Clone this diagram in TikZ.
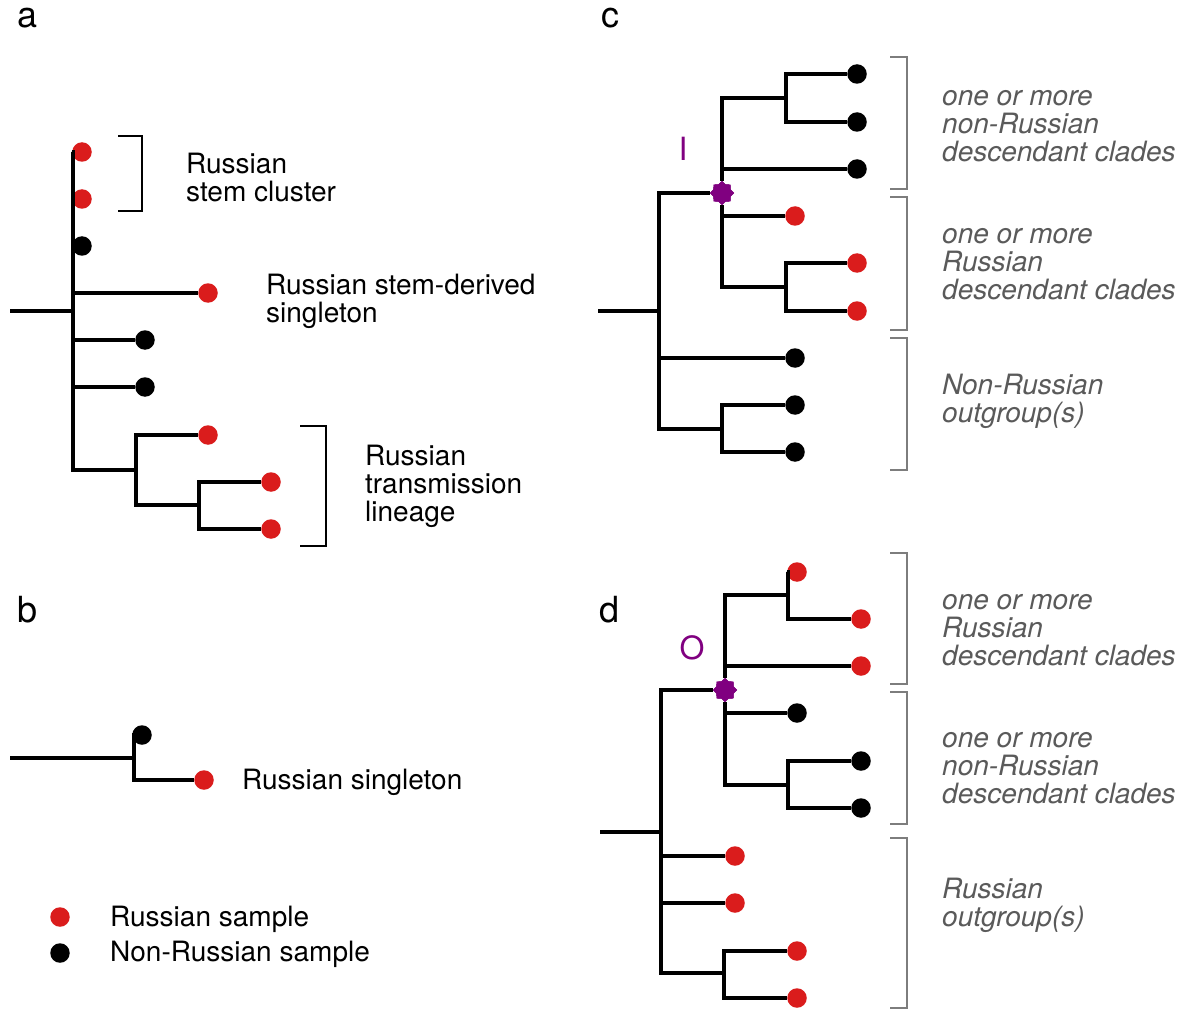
\documentclass[tikz,border=0pt]{standalone}
\usepackage{fontspec}
\setmainfont{TeX Gyre Heros}
\usetikzlibrary{shapes.geometric}
\definecolor{rus}{RGB}{218,28,28}
\definecolor{purp}{RGB}{128,0,128}
\definecolor{gtext}{RGB}{90,90,90}
\definecolor{gbr}{RGB}{125,125,125}
\begin{document}
\begin{tikzpicture}[x=1pt,y=-1pt,
  br/.style={line width=3.1pt,line join=miter},
  rdot/.style={circle,fill=rus,inner sep=0pt,minimum size=19.5pt},
  kdot/.style={circle,fill=black,inner sep=0pt,minimum size=19.5pt},
  burst/.style={star,star points=8,star point ratio=1.3,fill=purp,inner sep=0pt,minimum size=24pt},
  kbrack/.style={line width=2.8pt,line join=miter},
  gbrack/.style={line width=1.8pt,draw=gbr,line join=miter},
  txt/.style={anchor=west,align=left,inner sep=0pt,font=\fontsize{28}{28}\selectfont},
  gtxt/.style={txt,text=gtext,font=\fontsize{28}{28}\selectfont\itshape},
  plab/.style={inner sep=0pt,font=\fontsize{36}{36}\selectfont},
  mlab/.style={inner sep=0pt,text=purp,font=\fontsize{32}{32}\selectfont}]
\useasboundingbox[fill=white] (0,0) rectangle (1189,1011);

% ---------------- panel a ----------------
\node[plab] (la) at (28,18) {a};
\coordinate (a0) at (10,311);
\coordinate (ar) at (73,311);
\coordinate (a1) at (136,470);
\coordinate (a2) at (199,505);
\node[rdot] (aL1) at (82,152) {};
\node[rdot] (aL2) at (82,199) {};
\node[kdot] (aL3) at (82,246) {};
\node[rdot] (aL4) at (208,293) {};
\node[kdot] (aL5) at (145,340) {};
\node[kdot] (aL6) at (145,387) {};
\node[rdot] (aL7) at (208,435) {};
\node[rdot] (aL8) at (271,482) {};
\node[rdot] (aL9) at (271,529) {};
\draw[br] (a0) -- (ar);
\foreach \n in {aL1,aL2,aL3,aL4,aL5,aL6,a1} \draw[br] (ar) |- (\n);
\foreach \n in {aL7,a2} \draw[br] (a1) |- (\n);
\foreach \n in {aL8,aL9} \draw[br] (a2) |- (\n);
\draw[kbrack] (118,136) -| (142,211) -- (118,211);
\draw[kbrack] (300,426) -| (326,546) -- (300,546);
\node[txt] (ta1) at (186,178) {Russian\\stem cluster};
\node[txt] (ta2) at (266,301) {Russian stem-derived\\singleton};
\node[txt] (ta3) at (365,486) {Russian\\transmission\\lineage};

% ---------------- panel b ----------------
\node[plab] (lb) at (28,610) {b};
\coordinate (b0) at (10,758);
\coordinate (bro) at (134,758);
\node[kdot] (bL1) at (142,735) {};
\node[rdot] (bL2) at (204,780) {};
\draw[br] (b0) -- (bro);
\draw[br] (bro) |- (bL1);
\draw[br] (bro) |- (bL2);
\node[txt] (tb1) at (242,782) {Russian singleton};

% legend
\node[rdot] (gR) at (60,917) {};
\node[kdot] (gK) at (60,953) {};
\node[txt] (tgR) at (110,919) {Russian sample};
\node[txt] (tgK) at (110,954) {Non-Russian sample};

% ---------------- panel c ----------------
\node[plab] (lc) at (610,18) {c};
\coordinate (c0) at (598,311);
\coordinate (cr) at (659,311);
\node[burst] (cs) at (722,193) {};
\coordinate (c1) at (786,98);
\coordinate (c2) at (786,287);
\coordinate (c3) at (722,429);
\node[kdot] (cL1) at (857,74) {};
\node[kdot] (cL2) at (857,122) {};
\node[kdot] (cL3) at (857,169) {};
\node[rdot] (cL4) at (795,216) {};
\node[rdot] (cL5) at (857,263) {};
\node[rdot] (cL6) at (857,311) {};
\node[kdot] (cL7) at (795,358) {};
\node[kdot] (cL8) at (795,405) {};
\node[kdot] (cL9) at (795,452) {};
\draw[br] (c0) -- (cr);
\foreach \n in {cs,cL7,c3} \draw[br] (cr) |- (\n);
\foreach \n in {c1,cL3,cL4,c2} \draw[br] (cs) |- (\n);
\foreach \n in {cL1,cL2} \draw[br] (c1) |- (\n);
\foreach \n in {cL5,cL6} \draw[br] (c2) |- (\n);
\foreach \n in {cL8,cL9} \draw[br] (c3) |- (\n);
\node[burst] at (cs) {};
\node[mlab] (mI) at (683,149) {I};
\draw[gbrack] (890,57) -| (907,189) -- (890,189);
\draw[gbrack] (890,197) -| (907,330) -- (890,330);
\draw[gbrack] (890,338) -| (907,470) -- (890,470);
\node[gtxt] (tc1) at (942,126) {one or more\\non-Russian\\descendant clades};
\node[gtxt] (tc2) at (942,264) {one or more\\Russian\\descendant clades};
\node[gtxt] (tc3) at (942,401) {Non-Russian\\outgroup(s)};

% ---------------- panel d ----------------
\node[plab] (ld) at (610,610) {d};
\coordinate (d0) at (600,832);
\coordinate (dr) at (661,832);
\node[burst] (ds) at (725,690) {};
\coordinate (d1) at (788,595);
\coordinate (d2) at (788,785);
\coordinate (d3) at (724,973);
\node[rdot] (dL1) at (797,572) {};
\node[rdot] (dL2) at (861,619) {};
\node[rdot] (dL3) at (861,666) {};
\node[kdot] (dL4) at (797,713) {};
\node[kdot] (dL5) at (861,761) {};
\node[kdot] (dL6) at (861,808) {};
\node[rdot] (dL7) at (735,856) {};
\node[rdot] (dL8) at (735,903) {};
\node[rdot] (dL9) at (797,951) {};
\node[rdot] (dL10) at (797,998) {};
\draw[br] (d0) -- (dr);
\foreach \n in {ds,dL7,dL8,d3} \draw[br] (dr) |- (\n);
\foreach \n in {d1,dL3,dL4,d2} \draw[br] (ds) |- (\n);
\foreach \n in {dL1,dL2} \draw[br] (d1) |- (\n);
\foreach \n in {dL5,dL6} \draw[br] (d2) |- (\n);
\foreach \n in {dL9,dL10} \draw[br] (d3) |- (\n);
\node[burst] at (ds) {};
\node[mlab] (mO) at (692,648) {O};
\draw[gbrack] (890,553) -| (907,684) -- (890,684);
\draw[gbrack] (890,692) -| (907,824) -- (890,824);
\draw[gbrack] (890,838) -| (907,1008) -- (890,1008);
\node[gtxt] (td1) at (942,630) {one or more\\Russian\\descendant clades};
\node[gtxt] (td2) at (942,768) {one or more\\non-Russian\\descendant clades};
\node[gtxt] (td3) at (942,905) {Russian\\outgroup(s)};
\end{tikzpicture}
\end{document}
